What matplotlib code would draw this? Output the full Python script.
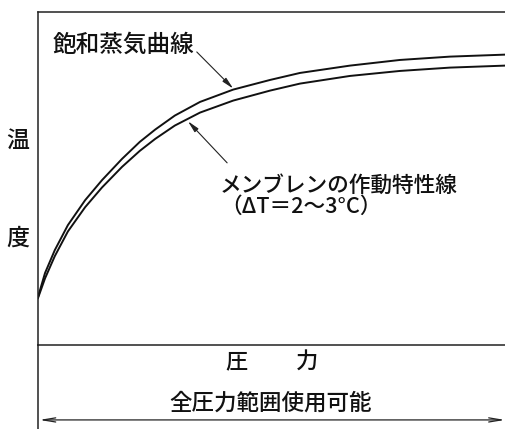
import matplotlib
matplotlib.use("Agg")
import matplotlib.pyplot as plt

# pressure (0-100) vs temperature (0-100)
pressure = [0, 1.5, 3.6, 6.4, 10.1, 13.7, 18.0, 21.8, 25.1, 29.3, 34.7, 41.8, 49.7, 56.1, 66.8, 77.5, 88.2, 100]
sat_curve = [14.4, 21.6, 28.5, 36.0, 43.5, 49.5, 55.9, 61.0, 64.7, 68.9, 73.0, 76.7, 79.6, 81.7, 83.9, 85.6, 86.6, 87.2]
membrane = [14.1, 20.0, 26.7, 34.1, 41.4, 47.3, 53.5, 58.3, 61.9, 65.9, 69.8, 73.4, 76.4, 78.5, 80.8, 82.3, 83.3, 83.9]

sat_label = "飽和蒸気曲線"
mem_label = "メンブレンの作動特性線\n（ΔT＝2〜3°C）"
y_chars = ["温", "度"]
x_chars = ["圧", "力"]
range_label = "全圧力範囲使用可能"

plt.rcParams['font.family'] = ['Noto Sans CJK JP', 'DejaVu Sans']
ink = "#111111"

fig = plt.figure(figsize=(5.05, 4.29), dpi=100)
W, H = 505, 429
ax = fig.add_axes([38 / W, (429 - 345) / H, 467 / W, 333 / H])
ax.set_xlim(0, 100)
ax.set_ylim(0, 100)
ax.set_xticks([])
ax.set_yticks([])
for s in ["left", "top", "bottom"]:
    ax.spines[s].set_linewidth(1.1)
    ax.spines[s].set_color("#222222")
ax.spines["right"].set_visible(False)

# left line runs on below the pressure axis
ax.plot([0, 0], [0, -0.26], transform=ax.transAxes, color="#222222", lw=1.1, clip_on=False)

ax.plot(pressure, sat_curve, color=ink, lw=1.4)
ax.plot(pressure, membrane, color=ink, lw=1.4)

head = "-|>,head_length=0.7,head_width=0.15"
ax.annotate("", xy=(41.8, 77.0), xytext=(34.0, 88.0),
            arrowprops=dict(arrowstyle=head, color="#222222", lw=0.8, shrinkA=0, shrinkB=0))
ax.annotate("", xy=(32.1, 67.2), xytext=(40.5, 54.7),
            arrowprops=dict(arrowstyle=head, color="#222222", lw=0.8, shrinkA=0, shrinkB=0))

ax.text(3.2, 90.1, sat_label, fontsize=17, fontweight="medium", ha="left", va="center", color=ink)
ax.text(39.0, 44.6, mem_label, fontsize=15.6, fontweight="medium", ha="left", va="center",
        linespacing=0.95, color=ink)

ax.text(-4.3, 61.6, y_chars[0], fontsize=16.5, fontweight="medium", ha="center", va="center",
        color=ink, clip_on=False)
ax.text(-4.3, 32.1, y_chars[1], fontsize=16.5, fontweight="medium", ha="center", va="center",
        color=ink, clip_on=False)
ax.text(42.6, -5.1, x_chars[0], fontsize=16, fontweight="medium", ha="center", va="center",
        color=ink, clip_on=False)
ax.text(57.6, -5.1, x_chars[1], fontsize=16, fontweight="medium", ha="center", va="center",
        color=ink, clip_on=False)
ax.text(49.9, -17.4, range_label, fontsize=16.2, fontweight="medium", ha="center", va="center",
        color=ink, clip_on=False)

ax.annotate("", xy=(0.3, -22.5), xytext=(100, -22.5), annotation_clip=False,
            arrowprops=dict(arrowstyle="<->,head_length=0.9,head_width=0.15", color="#222222",
                            lw=0.9, shrinkA=0, shrinkB=0))

fig.savefig("out.png", dpi=100)
